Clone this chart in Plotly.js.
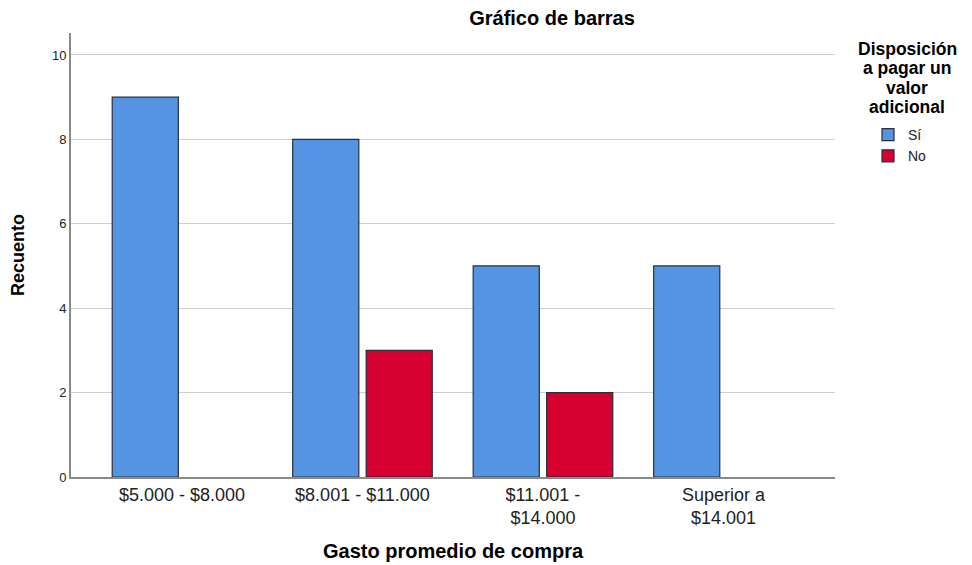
<!DOCTYPE html>
<html><head><meta charset="utf-8">
<script src="https://cdn.plot.ly/plotly-3.0.1.min.js"></script>
<style>body{margin:0;background:#fff}#chart{width:972px;height:565px}</style>
</head><body><div id="chart"></div>
<script>
const categories = ["$5.000 - $8.000", "$8.001 - $11.000", "$11.001 -<br>$14.000", "Superior a<br>$14.001"];
const siValues = [9, 8, 5, 5];
const noValues = [0, 3, 2, 0];
const seriesNames = ["Sí", "No"];
const yTicks = [0, 2, 4, 6, 8, 10];
const legendTitleLines = ["Disposición", "a pagar un", "valor", "adicional"];

const F = "Liberation Sans, Arial, sans-serif";
const L = 71, R = 835, T = 33, B = 477;
const px2x = p => (p - L) / (R - L);
const px2y = p => (B - p) / (B - T);
const show = v => (v === 0 ? null : v);

const traces = [
  {type:'bar', x:[0,1,2,3], y:siValues.map(show), name:seriesNames[0],
   marker:{color:'#5594E3', line:{color:'#2b2f3a', width:1.2}}},
  {type:'bar', x:[0,1,2,3], y:noValues.map(show), name:seriesNames[1],
   marker:{color:'#D5002F', line:{color:'#2b2f3a', width:1.2}}}
];
const titleAnn = legendTitleLines.map((t, i) => ({
  xref:'paper', yref:'paper', x:px2x(907), y:px2y(49 + i*19.3), xanchor:'center', yanchor:'middle',
  text:'<b>' + t + '</b>', showarrow:false, font:{size:17.5, family:F, color:'#000'}
}));
const layout = {
  width:972, height:565,
  margin:{l:L, r:972-R, t:T, b:565-B},
  paper_bgcolor:'#fff', plot_bgcolor:'#fff',
  font:{family:F, color:'#000'},
  barmode:'group', bargap:0.186, bargroupgap:0.1,
  showlegend:true,
  title:{text:'<b>Gráfico de barras</b>', font:{size:20, family:F}, x:552/972, xanchor:'center', y:1-18/565, yanchor:'middle'},
  xaxis:{range:[-0.615, 3.618], tickvals:[0,1,2,3], ticktext:categories, showgrid:false,
    showline:true, linecolor:'#8a8a8a', linewidth:2, ticks:'', tickfont:{size:18, color:'#222'},
    title:{text:''}, zeroline:false, fixedrange:true},
  yaxis:{range:[0,10.52], tickvals:yTicks, showgrid:true, gridcolor:'#cfcfcf', gridwidth:1,
    showline:true, linecolor:'#8a8a8a', linewidth:2, ticks:'', tickfont:{size:13, color:'#222'},
    title:{text:''}, zeroline:false, fixedrange:true},
  legend:{x:px2x(868), xanchor:'left', y:px2y(119), yanchor:'top',
    font:{size:14, color:'#222'}, itemwidth:30, tracegroupgap:0, bgcolor:'rgba(0,0,0,0)'},
  annotations:[
    ...titleAnn,
    {xref:'paper', yref:'paper', x:px2x(453), y:px2y(551), xanchor:'center', yanchor:'middle',
     text:'<b>Gasto promedio de compra</b>', showarrow:false, font:{size:20, family:F, color:'#000'}},
    {xref:'paper', yref:'paper', x:px2x(18), y:px2y(255), xanchor:'center', yanchor:'middle', textangle:-90,
     text:'<b>Recuento</b>', showarrow:false, font:{size:18, family:F, color:'#000'}}
  ]
};
Plotly.newPlot('chart', traces, layout, {displayModeBar:false});
</script></body></html>
